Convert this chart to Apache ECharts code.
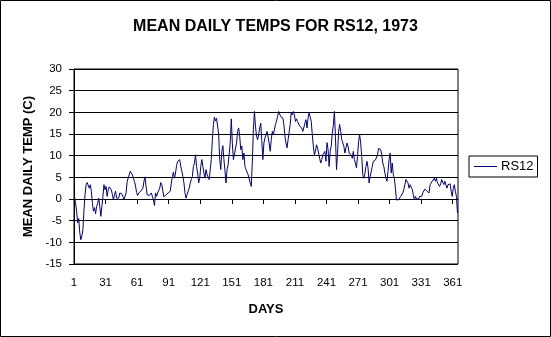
<!DOCTYPE html>
<html>
<head>
<meta charset="utf-8">
<script src="https://cdn.jsdelivr.net/npm/echarts@6/dist/echarts.min.js"></script>
<style>
html,body{margin:0;padding:0;background:#fff;}
#chart{width:551px;height:337px;}
</style>
</head>
<body>
<div id="chart"></div>
<script>
// Mean daily temperature (C), station RS12, 1973
const daysJanToFeb = [ // days 1-60
  0.5, -1, -2.8, -5.5, -4.5, -7.8, -9.4, -8.5, -7, -2.5,
  1, 3.3, 3.8, 3.5, 2.5, 3.3, 1.8, -1, -2.8, -2,
  -3.4, -1.7, -1, 0.2, -1.7, -4, -1.7, 0.6, 3.3, 2.1,
  2.9, 0.6, 2.1, 2.8, 2.5, 2.1, 1, -0.2, 1, 1.8,
  0.2, 0, 0.2, 1.4, 1, 1.2, 0.6, -0.2, -0.5, 1.4,
  4, 4.8, 5.2, 6.4, 6.2, 5.6, 4.8, 4, 3, 1.5
];
const daysMarToMay = [ // days 61-135
  0.8, 1.4, 1.4, 1.8, 2.2, 2.5, 4.1, 5.1, 2.9, 1,
  0.6, 0.8, 1.1, 1.4, 0.6, -0.2, -1.5, 1.4, 0.6, 1.4,
  1, 2.5, 3.8, 3.3, 1.8, 0.5, 0.2, 1, 0.6, 1.4,
  1, 1.8, 3.7, 5.1, 6.2, 4.8, 6, 7.7, 8.7, 8.7,
  9.1, 7.5, 6.4, 5.2, 3.7, 1.4, 0.2, 1, 1.8, 2.5,
  3.7, 4.5, 5.2, 7.5, 8.3, 10.2, 7.5, 6, 3.7, 4.8,
  7.5, 9.1, 7.5, 6, 4.8, 6.8, 5.6, 5.2, 4.5, 4.1,
  9.1, 13.7, 17.2, 18.9, 18.0
];
const daysMayToJul = [ // days 136-206
  18.6, 18.2, 15, 9.1, 6.8, 11, 12.3, 9.1, 6.5, 3.7,
  6.8, 7.9, 7.8, 12.9, 18.5, 12.9, 9.1, 10.4, 10.8, 12.9,
  15.6, 16.4, 14.5, 11.4, 12.2, 9.1, 10.6, 7.5, 6.8, 6.4,
  5.6, 5.2, 3.7, 2.9, 8.5, 16, 20.2, 16.8, 14.5, 13.7,
  14.8, 16.4, 17.5, 13.5, 9.1, 12.9, 14.1, 14.8, 15.6, 15.2,
  12.9, 11, 13.7, 15.6, 14.8, 14.5, 17.2, 18, 19, 20.2,
  19.8, 19, 19.4, 18.7, 17.2, 14.5, 12.9, 11.8, 13.7, 15.5,
  17.2
];
const daysJulToSep = [ // days 207-271
  20, 19.4, 20.2, 19.4, 17.9, 18.5, 17.9, 17.5, 16.8, 17.2,
  16.4, 15.6, 16, 17.5, 18.3, 16.4, 18.7, 20, 18.9, 17.9,
  14.8, 12.2, 10.2, 11, 12.5, 11.8, 10.6, 9.4, 8.3, 9.1,
  10.2, 9.8, 11, 8.7, 13, 11.4, 7.5, 11, 12.2, 15.2,
  17, 20.2, 14.5, 6.8, 10.5, 15.5, 17.2, 15.6, 13.7, 13.3,
  12.2, 10.6, 11.8, 12.9, 12.2, 10.6, 11, 10.2, 9.4, 11,
  9.1, 8.3, 7.2, 9.8, 13.3
];
const daysSepToNov = [ // days 272-338
  14.8, 12.9, 9.8, 5.6, 4.8, 5.9, 7.5, 8.7, 7.2, 3.7,
  5.2, 5.2, 7.5, 8.7, 9.1, 9, 9.1, 10.2, 11.7, 11.9,
  11.4, 10.2, 8.3, 7.5, 6, 4.8, 4.1, 6.4, 9.1, 10.6,
  6, 8.3, 5.6, 4.8, 2.5, -0.2, -0.5, -0.2, -0.5, 0.6,
  1, 1.4, 2.2, 3.3, 4.5, 4.8, 3.7, 2.5, 3.3, 3.7,
  2.2, 1, -0.2, 0.6, 0, 0.2, 0, 0.6, 0.8, 0.6,
  1.4, 1.8, 2.3, 2.2, 1.8, 1.4, 1.4
];
const daysDec = [ // days 339-365
  3.3, 3.5, 4.1, 3.8, 4.8, 4.1, 4.8, 3.7, 4.1, 2.9,
  3.5, 4.5, 4.1, 3.3, 4.1, 3.7, 2.5, 3.3, 2.9, 3.5,
  1.8, 0.6, 2.5, 3.3, 1.8, 0.6, -3.2
];
const xTickLabels = ['1','31','61','91','121','151','181','211','241','271','301','331','361'];
const yMin = -15, yMax = 30, yStep = 5;
const seriesName = 'RS12';

const temps = [].concat(daysJanToFeb, daysMarToMay, daysMayToJul, daysJulToSep, daysSepToNov, daysDec);
const points = temps.map((v, i) => [i + 0.5, v]);
const tickPos = xTickLabels.map(s => Number(s) - 1);

const FONT = '"Liberation Sans", Arial, sans-serif';
const chart = echarts.init(document.getElementById('chart'), null, {renderer: 'canvas'});
chart.setOption({
  animation: false,
  backgroundColor: '#fff',
  title: {
    text: 'MEAN DAILY TEMPS FOR RS12, 1973',
    left: 'center', top: 19, padding: 0,
    textStyle: {fontFamily: FONT, fontSize: 16, fontWeight: 'bold', color: '#000'}
  },
  legend: {
    data: [{name: seriesName, icon: 'rect'}],
    orient: 'vertical',
    left: 469, top: 156,
    padding: [3, 4, 3, 5],
    borderColor: '#000', borderWidth: 1,
    itemWidth: 23, itemHeight: 1, itemGap: 0,
    textStyle: {fontFamily: FONT, fontSize: 13, color: '#000', padding: [0, 0, 0, -1], lineHeight: 15}
  },
  graphic: [{
    type: 'rect', shape: {x: 0.5, y: 0.5, width: 550, height: 336},
    style: {fill: 'none', stroke: '#000', lineWidth: 1}, silent: true, z: 100
  }],
  grid: {left: 74, right: 93, top: 69, bottom: 73, show: true, borderColor: '#000', borderWidth: 1, backgroundColor: '#fff'},
  xAxis: {
    type: 'value', min: 0, max: 365,
    name: 'DAYS', nameLocation: 'middle', nameGap: 39,
    nameTextStyle: {fontFamily: FONT, fontSize: 13, fontWeight: 'bold', color: '#000'},
    axisLine: {lineStyle: {color: '#000', width: 1}},
    axisTick: {show: true, length: 5, lineStyle: {color: '#000'}, customValues: tickPos},
    axisLabel: {customValues: tickPos, formatter: v => String(v + 1), margin: 13,
      fontFamily: FONT, fontSize: 11.5, color: '#000'},
    splitLine: {show: false}
  },
  yAxis: {
    type: 'value', min: yMin, max: yMax, interval: yStep,
    name: 'MEAN DAILY TEMP (C)', nameLocation: 'middle', nameGap: 37,
    nameTextStyle: {fontFamily: FONT, fontSize: 13, fontWeight: 'bold', color: '#000'},
    axisLine: {show: true, lineStyle: {color: '#000', width: 1}},
    axisTick: {show: true, length: 5, lineStyle: {color: '#000'}},
    axisLabel: {margin: 12, fontFamily: FONT, fontSize: 11.5, color: '#000'},
    splitLine: {show: true, lineStyle: {color: '#000', width: 1}}
  },
  series: [{
    name: seriesName, type: 'line', data: points,
    showSymbol: false, symbol: 'none',
    lineStyle: {color: '#000080', width: 1},
    itemStyle: {color: '#000080'}
  }]
});
</script>
</body>
</html>
